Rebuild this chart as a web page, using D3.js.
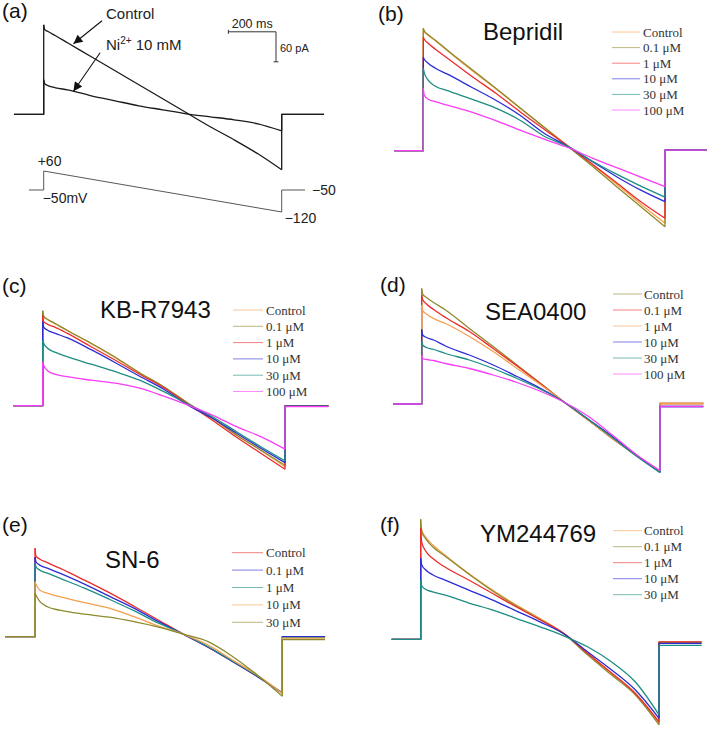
<!DOCTYPE html>
<html><head><meta charset="utf-8">
<script src="https://cdn.jsdelivr.net/npm/d3@7"></script>
<style>body{margin:0;background:#fff} svg{display:block}</style>
</head><body><svg id="fig" width="709" height="730"></svg>
<script>
// ---------- DATA ----------
// time points (ms from ramp start) at which every ramp current is sampled
const rampTimes = [0,4,20,50,100,200,300,400,500,600,700,800,900,1000];

// Panel (a): currents in pA
const aControl = [179,170,165,157,143,115,87,59,31,3,-25,-51,-79,-111];
const aNi      = [69,61,57,53,49,37,27,17,9,1,-5,-11,-19,-33];
const protocolTimes = [-62,0,0,1000,1000,1098];
const protocolMV    = [-50,-50,60,-120,-50,-50];
const protocolLabels = ["+60","\u221250mV","\u221250","\u2212120"];
const scaleBarMs = 200, scaleBarPA = 60;

// Panel (b) Bepridil
const bLegend = ["Control","0.1 \u03bcM","1 \u03bcM","10 \u03bcM","30 \u03bcM","100 \u03bcM"];
const bValues = [
  [243,238,231,220,200,161,124,85,47,9,-28,-67,-107,-145],
  [245,240,232,221,201,163,125,86,47,8,-31,-72,-112,-152],
  [227,223,215,203,185,149,115,78,43,9,-27,-64,-102,-135],
  [187,183,175,165,153,127,101,71,35,8,-22,-52,-79,-102],
  [165,156,141,129,120,103,85,61,29,8,-21,-47,-71,-93],
  [125,111,103,98,91,77,60,41,23,6,-15,-34,-53,-72]];
const bPost = [1,1,1,1,1,1];

// Panel (c) KB-R7943
const cLegend = ["Control","0.1 \u03bcM","1 \u03bcM","10 \u03bcM","30 \u03bcM","100 \u03bcM"];
const cValues = [
  [189,178,172,164,151,124,96,65,37,5,-25,-58,-89,-122],
  [190,179,173,165,151,125,97,66,38,5,-25,-59,-89,-119],
  [181,168,163,157,145,118,91,63,36,3,-29,-63,-95,-127],
  [168,157,151,145,136,112,86,59,33,1,-25,-55,-85,-114],
  [131,125,115,107,98,83,68,51,28,3,-22,-52,-82,-110],
  [88,81,70,63,58,51,45,35,19,1,-19,-42,-62,-87]];
const cPost = [0,0,0,-1,-1,-2];

// Panel (d) SEA0400
const dLegend = ["Control","0.1 \u03bcM","1 \u03bcM","10 \u03bcM","30 \u03bcM","100 \u03bcM"];
const dValues = [
  [231,220,213,203,188,151,115,78,41,3,-32,-69,-102,-135],
  [218,209,200,189,173,145,111,76,40,3,-32,-69,-102,-135],
  [198,187,180,171,161,135,105,71,38,3,-33,-69,-103,-135],
  [149,138,133,128,116,98,78,55,31,3,-31,-65,-102,-137],
  [125,118,113,109,101,88,71,51,29,3,-31,-67,-104,-137],
  [98,91,89,87,81,71,58,43,25,3,-25,-62,-101,-133]];
const dPost = [1,1,1,-5,-5,-5];

// Panel (e) SN-6
const eLegend = ["Control","0.1 \u03bcM","1 \u03bcM","10 \u03bcM","30 \u03bcM"];
const eValues = [
  [177,161,155,148,137,113,88,61,33,5,-21,-50,-80,-112],
  [159,150,143,137,127,105,81,57,30,5,-21,-50,-80,-113],
  [147,140,133,127,117,97,75,52,27,5,-20,-49,-79,-112],
  [110,105,93,87,80,68,57,40,21,5,-17,-47,-77,-113],
  [87,83,70,60,53,45,39,30,19,5,-10,-40,-77,-119]];
const ePost = [0,0,-2,-3,-6];

// Panel (f) YM244769
const fLegend = ["Control","0.1 \u03bcM","1 \u03bcM","10 \u03bcM","30 \u03bcM"];
const fValues = [
  [229,219,205,189,169,132,99,69,42,12,-28,-68,-108,-168],
  [240,215,202,185,167,131,97,67,40,11,-31,-71,-111,-171],
  [222,195,177,162,145,119,92,65,39,12,-28,-67,-108,-165],
  [162,149,139,129,119,99,79,57,35,11,-25,-61,-101,-158],
  [119,107,100,95,89,73,59,42,25,7,-15,-45,-85,-151]];
const fPost = [-5,-6,-5,-8,-12];

// ---------- STYLE ----------
const C = {orange:"#f5a04e", olive:"#8e8a2c", red:"#ec2b2b", blue:"#2c2cd4", teal:"#1c8c84", magenta:"#f83cf8"};
const sans = "'Liberation Sans', Arial, Helvetica, sans-serif";
const serif = "'Liberation Serif', 'Times New Roman', serif";

const svg = d3.select("#fig");

function scalesFor(L){
  return {
    x: d3.scaleLinear().domain([0,1000]).range(L.ramp),
    y: d3.scaleLinear().domain([0,100]).range([L.base, L.base-50])
  };
}
const lin = (s)=>d3.line().x(d=>s.x(d[0])).y(d=>s.y(d[1]));
const smooth = (s)=>d3.line().x(d=>s.x(d[0])).y(d=>s.y(d[1])).curve(d3.curveMonotoneX);

function drawTrace(g, s, L, values, post, color, width){
  const ramp = rampTimes.map((t,i)=>[t, values[i]]);
  const on = [[L.pre,0],[0,0],[0,values[0]]];
  const off = [[1000, values[values.length-1]],[1000,post],[1000+L.post,post]];
  const gg = g.append("g").attr("fill","none").attr("stroke",color).attr("stroke-width",width)
    .attr("stroke-linejoin","round");
  gg.append("path").attr("d", lin(s)(on));
  gg.append("path").attr("d", smooth(s)(ramp));
  gg.append("path").attr("d", lin(s)(off));
}

function panelLabel(txt, x, y){
  svg.append("text").attr("x",x).attr("y",y).attr("font-family",sans).attr("font-size",21)
    .attr("fill","#111").text(txt);
}

function drugPanel(L, label, title, legend, values, post, colors){
  const s = scalesFor(L);
  const g = svg.append("g");
  values.forEach((v,i)=>drawTrace(g, s, L, v, post[i], colors[i], 1.3));
  panelLabel(label, L.label[0], L.label[1]);
  svg.append("text").attr("x",L.title[0]).attr("y",L.title[1]).attr("font-family",sans)
    .attr("font-size",24).attr("fill","#111").text(title);
  const lg = svg.append("g");
  legend.forEach((t,i)=>{
    const yy = L.leg.y + i*L.leg.dy;
    lg.append("line").attr("x1",L.leg.x0).attr("x2",L.leg.x1).attr("y1",yy).attr("y2",yy)
      .attr("stroke",colors[i]).attr("stroke-width",1).attr("stroke-opacity",0.6);
    lg.append("text").attr("x",L.leg.tx).attr("y",yy).attr("dy","0.35em")
      .attr("font-family",serif).attr("font-size",13).attr("fill","#333").text(t);
  });
}

// ---------- PANEL (a) ----------
(function(){
  const L = {ramp:[43.7,281.7], base:114.3, pre:-125, post:178};
  const s = scalesFor(L);
  const g = svg.append("g");
  drawTrace(g, s, L, aNi, 0, "#1a1a1a", 1.3);
  drawTrace(g, s, L, aControl, 0, "#1a1a1a", 1.3);
  panelLabel("(a)", 2, 18);

  // arrows
  const defs = svg.append("defs");
  defs.append("marker").attr("id","ah").attr("viewBox","0 0 10 10").attr("refX",10).attr("refY",5)
    .attr("markerWidth",11).attr("markerHeight",9).attr("markerUnits","userSpaceOnUse")
    .attr("orient","auto").append("path").attr("d","M0,0L10,5L0,10z").attr("fill","#111");
  const arrows = [{from:[245,187], to:[125,141]}, {from:[237,123], to:[125,46]}];
  arrows.forEach(a=>{
    svg.append("line").attr("x1",s.x(a.from[0])).attr("y1",s.y(a.from[1]))
      .attr("x2",s.x(a.to[0])).attr("y2",s.y(a.to[1])).attr("stroke","#111")
      .attr("stroke-width",1.1).attr("marker-end","url(#ah)");
  });
  svg.append("text").attr("x",106).attr("y",19).attr("font-family",sans).attr("font-size",15)
    .attr("fill","#222").text("Control");
  const ni = svg.append("text").attr("x",106).attr("y",50).attr("font-family",sans).attr("font-size",15).attr("fill","#222");
  ni.append("tspan").text("Ni");
  ni.append("tspan").attr("font-size",10).attr("dy",-6).text("2+");
  ni.append("tspan").attr("dy",6).text(" 10 mM");

  // scale bar
  const sbT = 976, sbTop = 165;
  const xs0 = s.x(sbT - scaleBarMs), xs1 = s.x(sbT), ys0 = s.y(sbTop), ys1 = s.y(sbTop - scaleBarPA);
  const sb = svg.append("g").attr("stroke","#333").attr("stroke-width",1);
  sb.append("line").attr("x1",xs0).attr("x2",xs1).attr("y1",ys0).attr("y2",ys0);
  sb.append("line").attr("x1",xs0).attr("x2",xs0).attr("y1",ys0-2).attr("y2",ys0+2);
  sb.append("line").attr("x1",xs1).attr("x2",xs1).attr("y1",ys0).attr("y2",ys1);
  sb.append("line").attr("x1",xs1-2.5).attr("x2",xs1+2.5).attr("y1",ys1).attr("y2",ys1);
  svg.append("text").attr("x",(xs0+xs1)/2).attr("y",ys0-4).attr("text-anchor","middle")
    .attr("font-family",sans).attr("font-size",12.5).attr("fill","#222").text(scaleBarMs+" ms");
  svg.append("text").attr("x",xs1+4).attr("y",(ys0+ys1)/2+5).attr("font-family",sans)
    .attr("font-size",11).attr("fill","#222").text(scaleBarPA+" pA");

  // voltage protocol
  const vy = d3.scaleLinear().domain([-120,-50,60]).range([212,190,171]);
  const vline = d3.line().x((d,i)=>s.x(protocolTimes[i])).y(d=>vy(d));
  svg.append("path").attr("d",vline(protocolMV)).attr("fill","none").attr("stroke","#444").attr("stroke-width",0.9);
  const vt = (t,x,y,anchor)=>svg.append("text").attr("x",x).attr("y",y).attr("text-anchor",anchor||"start")
    .attr("font-family",sans).attr("font-size",14).attr("fill","#222").text(t);
  vt(protocolLabels[0], s.x(0)-6, vy(60)-5);
  vt(protocolLabels[1], s.x(0)-1, vy(-50)+13);
  vt(protocolLabels[2], s.x(protocolTimes[5])+7, vy(-50)+5);
  vt(protocolLabels[3], s.x(1000)+3, vy(-120)+11);
})();

// ---------- PANELS (b)-(f) ----------
drugPanel({ramp:[423.3,665], base:150.7, pre:-120, post:172, label:[378,21], title:[483,40],
  leg:{x0:612,x1:640,tx:643,y:32,dy:15.6}}, "(b)", "Bepridil", bLegend, bValues, bPost,
  [C.orange,C.olive,C.red,C.blue,C.teal,C.magenta]);

drugPanel({ramp:[42.7,285], base:405.7, pre:-121, post:179, label:[2,293], title:[100,318],
  leg:{x0:233,x1:263,tx:266,y:310,dy:16.3}}, "(c)", "KB-R7943", cLegend, cValues, cPost,
  [C.orange,C.olive,C.red,C.blue,C.teal,C.magenta]);

drugPanel({ramp:[421.7,660], base:404, pre:-119, post:182, label:[380,292], title:[485,320],
  leg:{x0:613,x1:642,tx:644,y:294,dy:16}}, "(d)", "SEA0400", dLegend, dValues, dPost,
  [C.olive,C.red,C.orange,C.blue,C.teal,C.magenta]);

drugPanel({ramp:[35,282.3], base:636.7, pre:-121, post:173, label:[2,532], title:[105,568],
  leg:{x0:232,x1:263,tx:266,y:552.7,dy:17.4}}, "(e)", "SN-6", eLegend, eValues, ePost,
  [C.red,C.blue,C.teal,C.orange,C.olive]);

drugPanel({ramp:[420.7,659], base:639.3, pre:-122, post:179, label:[380,532], title:[480,542],
  leg:{x0:613,x1:642,tx:644,y:530.7,dy:16}}, "(f)", "YM244769", fLegend, fValues, fPost,
  [C.orange,C.olive,C.red,C.blue,C.teal]);
</script></body></html>
